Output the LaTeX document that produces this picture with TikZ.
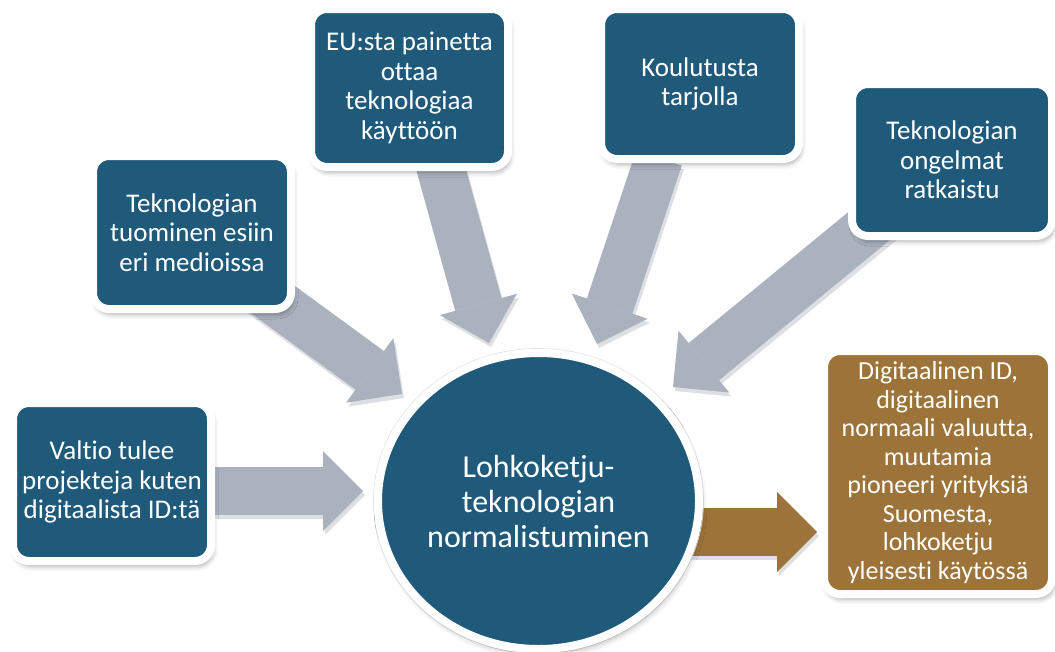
\documentclass[tikz,border=0pt]{standalone}
\usepackage{fontspec}
\setmainfont{Carlito}[Ligatures=CommonOff]
\usetikzlibrary{arrows.meta,shapes.geometric,shadows.blur,calc,backgrounds}
\definecolor{nblue}{HTML}{1F5A7B}
\definecolor{nbrown}{HTML}{9C7439}
\definecolor{ngray}{HTML}{AAB2BE}
\definecolor{nshadow}{HTML}{DDDFE3}
\begin{document}
\begin{tikzpicture}[x=1pt,y=-1pt,
  boxbase/.style={rectangle, rounded corners=16pt, draw=white, line width=8pt,
    text=white, align=center, inner sep=0pt, font=\fontsize{27}{29.5}\selectfont,
    blur shadow={shadow xshift=2pt, shadow yshift=-5pt, shadow blur radius=5pt, shadow opacity=35}},
  bluebox/.style={boxbase, fill=nblue},
  brownbox/.style={boxbase, fill=nbrown, font=\fontsize{26}{28.5}\selectfont},
  hubstyle/.style={ellipse, draw=white, line width=8pt, fill=nblue, text=white,
    align=center, inner sep=0pt, font=\fontsize{32}{35}\selectfont,
    blur shadow={shadow xshift=2pt, shadow yshift=-5pt, shadow blur radius=6pt, shadow opacity=30}},
  flow/.style={line width=48pt, draw=ngray, -{Triangle[width=80pt,length=40pt,line width=0pt]}},
  flowshadow/.style={line width=48pt, draw=nshadow, -{Triangle[width=80pt,length=40pt,line width=0pt]},
    transform canvas={shift={(2pt,-4pt)}}},
  outflow/.style={flow, draw=nbrown}
]
\useasboundingbox (0,0) rectangle (1055,651);

% nodes
\node[bluebox, minimum width=198pt, minimum height=158pt] (valtio) at (112,482)
  {Valtio tulee\\projekteja kuten\\digitaalista ID:tä};
\node[bluebox, minimum width=198pt, minimum height=153pt] (tuominen) at (192,232.5)
  {Teknologian\\tuominen esiin\\eri medioissa};
\node[bluebox, minimum width=197pt, minimum height=158pt] (eu) at (409.5,88)
  {EU:sta painetta\\ottaa\\teknologiaa\\käyttöön};
\node[bluebox, minimum width=198pt, minimum height=150pt] (koulutus) at (700,84)
  {Koulutusta\\tarjolla};
\node[bluebox, minimum width=200pt, minimum height=152pt] (ongelmat) at (952,160)
  {Teknologian\\ongelmat\\ratkaistu};
\node[brownbox, minimum width=228pt, minimum height=243pt] (tulos) at (938,472.5)
  {Digitaalinen ID,\\digitaalinen\\normaali valuutta,\\muutamia\\pioneeri yrityksiä\\Suomesta,\\lohkoketju\\yleisesti käytössä};
\node[ellipse, draw=black!10, line width=0.8pt, minimum width=330pt, minimum height=305pt] (hubring) at (538.5,501) {};
\node[hubstyle, minimum width=321pt, minimum height=296pt] (hub) at (538.5,501)
  {Lohkoketju-\\teknologian\\normalistuminen};

% arrow tips
\coordinate (t1) at (363,491);
\coordinate (t2) at (402,394);
\coordinate (t3) at (489,343);
\coordinate (t4) at (597,344);
\coordinate (t5) at (673,387);
\coordinate (t6) at (817,532);

\begin{scope}[on background layer]
  \draw[flowshadow] (valtio.center |- t1) -- (t1);
  \draw[flowshadow] ($(tuominen.south east)+(-42,-28)$) -- (t2);
  \draw[flowshadow] ($(eu.south)+(30,-7)$) -- (t3);
  \draw[flowshadow] ($(koulutus.south)+(-41,-5)$) -- (t4);
  \draw[flowshadow] ($(ongelmat.south west)+(37,-27)$) -- (t5);
  \draw[flowshadow] (hub.center |- t6) -- (t6);
  \draw[flow] (valtio.center |- t1) -- (t1);
  \draw[flow] ($(tuominen.south east)+(-42,-28)$) -- (t2);
  \draw[flow] ($(eu.south)+(30,-7)$) -- (t3);
  \draw[flow] ($(koulutus.south)+(-41,-5)$) -- (t4);
  \draw[flow] ($(ongelmat.south west)+(37,-27)$) -- (t5);
  \draw[outflow] (hub.center |- t6) -- (t6);
\end{scope}
\end{tikzpicture}
\end{document}
